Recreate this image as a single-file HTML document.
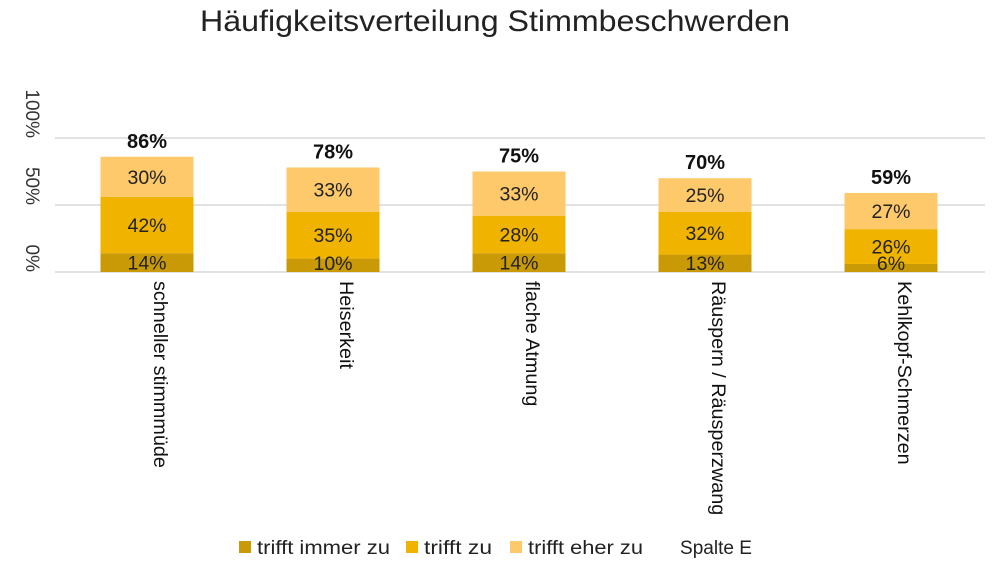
<!DOCTYPE html>
<html><head><meta charset="utf-8"><style>
body{margin:0;background:#fff;font-family:"Liberation Sans",sans-serif}
svg text{font-family:"Liberation Sans",sans-serif}
</style></head><body>
<svg width="1000" height="565">
<text x="495" y="31" text-anchor="middle" font-size="30" textLength="590" lengthAdjust="spacingAndGlyphs" fill="#222">Häufigkeitsverteilung Stimmbeschwerden</text>
<g id="grid"></g><g id="bars"></g><g id="labels"></g>
<g font-size="19" fill="#222">
<rect x="239" y="541" width="12" height="12" fill="#c99a06"/><text x="257" y="554" textLength="133" lengthAdjust="spacingAndGlyphs">trifft immer zu</text>
<rect x="406" y="541" width="12" height="12" fill="#efb300"/><text x="424" y="554" textLength="68" lengthAdjust="spacingAndGlyphs">trifft zu</text>
<rect x="510" y="541" width="12" height="12" fill="#fdc96b"/><text x="528" y="554" textLength="115" lengthAdjust="spacingAndGlyphs">trifft eher zu</text>
<text x="680" y="554" textLength="72" lengthAdjust="spacingAndGlyphs">Spalte E</text>
</g>
</svg>
<script>
const categories=["schneller stimmmüde","Heiserkeit","flache Atmung","Räuspern / Räusperzwang","Kehlkopf-Schmerzen"];
const immer=[14,10,14,13,6];
const zu=[42,35,28,32,26];
const eher=[30,33,33,25,27];
const totals=[86,78,75,70,59];
const yTicks=[0,50,100];
const NS="http://www.w3.org/2000/svg";
const y0=272,scale=1.34,x0=55,step=186,bw=93;
const y=v=>y0-v*scale;
const xc=i=>147+i*step;
function mk(t,a,p){const e=document.createElementNS(NS,t);for(const k in a)e.setAttribute(k,a[k]);p.appendChild(e);return e;}
const G=document.getElementById('grid'),B=document.getElementById('bars'),L=document.getElementById('labels');
yTicks.forEach(v=>{
 const l=mk('line',{x1:x0,x2:985,y1:y(v),y2:y(v),stroke:'#d9d9d9','stroke-width':1.5},G);
 
 
 const t=mk('text',{transform:`translate(26,${y(v)}) rotate(90)`,'text-anchor':'end','font-size':19,fill:'#333'},G);
 t.textContent=v+'%';
 
 
});
const series=[[immer,'#c99a06','immer'],[zu,'#efb300','zu'],[eher,'#fdc96b','eher']];
categories.forEach((c,i)=>{
 let base=0;
 series.forEach(([arr,col,nm])=>{
  const v=arr[i];
  const r=mk('rect',{x:xc(i)-bw/2,y:y(base+v),width:bw,height:v*scale,fill:col},B);
  
  
  const ty=nm==='immer'?Math.min(y(base+v/2)+7,y0-2):y(base+v/2)+7;
  const t=mk('text',{x:xc(i),y:ty,'text-anchor':'middle','font-size':19.5,fill:'#222'},L);
  t.textContent=v+'%';
  
  
  base+=v;
 });
 const tt=mk('text',{x:xc(i),y:y(totals[i])-9,'text-anchor':'middle','font-size':20,'font-weight':'bold',fill:'#111'},L);
 tt.textContent=totals[i]+'%';
 
 
 const cl=mk('text',{transform:`translate(${xc(i)+7},281) rotate(90)`,'font-size':19.8,fill:'#111'},L);
 cl.textContent=c;
 
 
});
</script>
</body></html>
